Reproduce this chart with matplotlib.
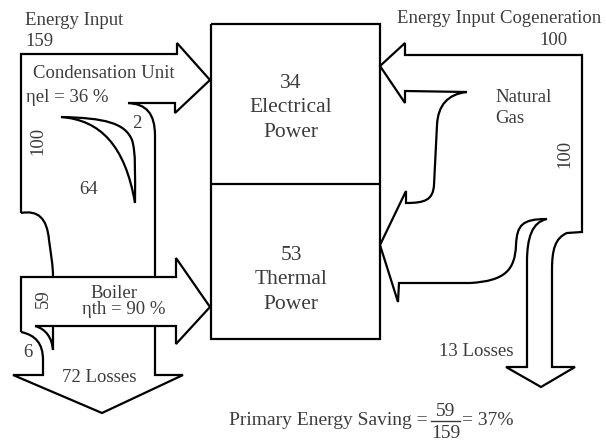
import matplotlib
matplotlib.use("Agg")
import matplotlib.pyplot as plt
from matplotlib.path import Path
from matplotlib.patches import PathPatch

# ---- data (energy units) ----
conv_input = 159          # separate production energy input
cond_flow = 100           # to condensation unit
boiler_flow = 59          # to boiler
electrical = 34
thermal = 53
cond_loss = 64
cond_small = 2
boiler_loss = 6
conv_losses = 72
cog_input = 100
cog_losses = 13
eta_el = 36
eta_th = 90
saving_pct = 37

FONT = ["Liberation Serif", "DejaVu Serif"]
TC = "#3c3c3c"

fig = plt.figure(figsize=(6.06, 4.41), dpi=100)
ax = fig.add_axes([0, 0, 1, 1])
ax.set_xlim(0, 606)
ax.set_ylim(441, 0)
ax.axis("off")


def draw(segs, lw=1.6):
    verts, codes = [], []
    for s in segs:
        if s[0] == "M":
            verts.append(s[1]); codes.append(Path.MOVETO)
        elif s[0] == "L":
            verts.append(s[1]); codes.append(Path.LINETO)
        elif s[0] == "C":
            verts += [s[1], s[2], s[3]]
            codes += [Path.CURVE4] * 3
    ax.add_patch(PathPatch(Path(verts, codes), fill=False, ec="black",
                           lw=lw, joinstyle="miter", capstyle="butt"))


# ---- left side: separate production ----
draw([("M", (21, 213)), ("L", (21, 54)), ("L", (177, 54)), ("L", (177, 43)),
      ("L", (210, 80)), ("L", (175, 113)), ("L", (175, 103)), ("L", (128, 103)),
      ("C", (146, 104), (155, 113), (155, 136)), ("L", (155, 277))])
draw([("M", (21, 213)), ("C", (38, 210), (47, 218), (49, 240)),
      ("C", (51, 255), (53, 265), (53, 277))])
draw([("M", (21, 332)), ("L", (21, 277)), ("L", (176, 277)), ("L", (176, 258)),
      ("L", (210, 307)), ("L", (176, 344)), ("L", (176, 326)), ("L", (35, 326))])
draw([("M", (35, 326)), ("C", (46, 329), (52, 338), (53, 350)), ("L", (53, 326))])
draw([("M", (21, 332)), ("C", (35, 335), (43, 343), (43, 360)), ("L", (43, 375)),
      ("L", (13, 375)), ("L", (102, 413)), ("L", (183, 375)), ("L", (155, 375)),
      ("L", (155, 326))])
# horn (condensation losses)
draw([("M", (61, 117)), ("C", (105, 118), (125, 123), (132, 140)),
      ("C", (136, 152), (135, 175), (135, 203))])
draw([("M", (61, 117)), ("C", (100, 120), (125, 145), (135, 203))])

# ---- central boxes ----
draw([("M", (211, 24)), ("L", (380, 24)), ("L", (380, 339)), ("L", (211, 339)),
      ("L", (211, 24))])
draw([("M", (211, 184)), ("L", (380, 184))])

# ---- right side: cogeneration ----
draw([("M", (467, 92)), ("L", (405, 91)), ("L", (405, 103)), ("L", (380, 66)),
      ("L", (405, 43)), ("L", (405, 55)), ("L", (582, 55)), ("L", (582, 232)),
      ("L", (567, 233)), ("C", (555, 238), (552, 250), (552, 270)),
      ("L", (552, 367)), ("L", (575, 367)), ("L", (541, 387)), ("L", (506, 367)),
      ("L", (527, 367)), ("L", (527, 262)),
      ("C", (527, 238), (532, 222), (547, 219))])
draw([("M", (467, 92)), ("C", (448, 94), (438, 105), (437, 125)), ("L", (434, 185)),
      ("C", (433, 200), (425, 203), (406, 203)), ("L", (406, 191)), ("L", (380, 245)),
      ("L", (398, 302)), ("L", (399, 283)), ("L", (470, 283)),
      ("C", (505, 281), (515, 270), (516, 245)),
      ("C", (517, 225), (522, 219), (547, 219))])

# ---- texts ----
fs = 13.5
kw = dict(family=FONT, color=TC, fontsize=fs)
ax.text(25, 25, "Energy Input", ha="left", va="baseline", **kw)
ax.text(25, 46, f"{conv_input}", ha="left", va="baseline", **kw)
ax.text(33, 78, "Condensation Unit", ha="left", va="baseline", **kw)
ax.text(26, 102, f"ηel = {eta_el} %", ha="left", va="baseline", **kw)
ax.text(37.5, 140.5, f"{cond_flow}", ha="center", va="center", rotation=90, **kw)
ax.text(137, 124, f"{cond_small}", ha="center", va="center", **kw)
ax.text(89, 189, f"{cond_loss}", ha="center", va="center", **kw)
ax.text(113.5, 298, "Boiler", ha="center", va="baseline", **kw)
ax.text(123.5, 314, f"ηth = {eta_th} %", ha="center", va="baseline", **kw)
ax.text(43.5, 299, f"{boiler_flow}", ha="center", va="center", rotation=90, **kw)
ax.text(27.5, 352.5, f"{boiler_loss}", ha="center", va="center", **kw)
ax.text(99, 382.5, f"{conv_losses} Losses", ha="center", va="baseline", **kw)

bkw = dict(family=FONT, color=TC, fontsize=15.5, ha="center", va="baseline")
ax.text(291, 88, f"{electrical}", **bkw)
ax.text(291, 112, "Electrical", **bkw)
ax.text(291, 137, "Power", **bkw)
ax.text(291, 260, f"{thermal}", **bkw)
ax.text(291, 284, "Thermal", **bkw)
ax.text(291, 309, "Power", **bkw)

ax.text(397, 23, "Energy Input Cogeneration", ha="left", va="baseline", **kw)
ax.text(568, 45, f"{cog_input}", ha="right", va="baseline", **kw)
ax.text(495, 102.5, "Natural", ha="left", va="baseline", **kw)
ax.text(495, 123, "Gas", ha="left", va="baseline", **kw)
ax.text(565, 154, f"{cog_input}", ha="center", va="center", rotation=90, **kw)
ax.text(476, 356, f"{cog_losses} Losses", ha="center", va="baseline", **kw)

kw2 = dict(family=FONT, color=TC, fontsize=14)
ax.text(428, 425, "Primary Energy Saving =", ha="right", va="baseline", **kw2)
ax.text(445.5, 416, f"{boiler_flow}", ha="center", va="baseline", **kw2)
ax.text(445.5, 438, f"{conv_input}", ha="center", va="baseline", **kw2)
ax.plot([431, 460], [421, 421], color=TC, lw=1.0)
ax.text(462, 425, f"= {saving_pct}%", ha="left", va="baseline", **kw2)

fig.savefig("out.png", dpi=100)
